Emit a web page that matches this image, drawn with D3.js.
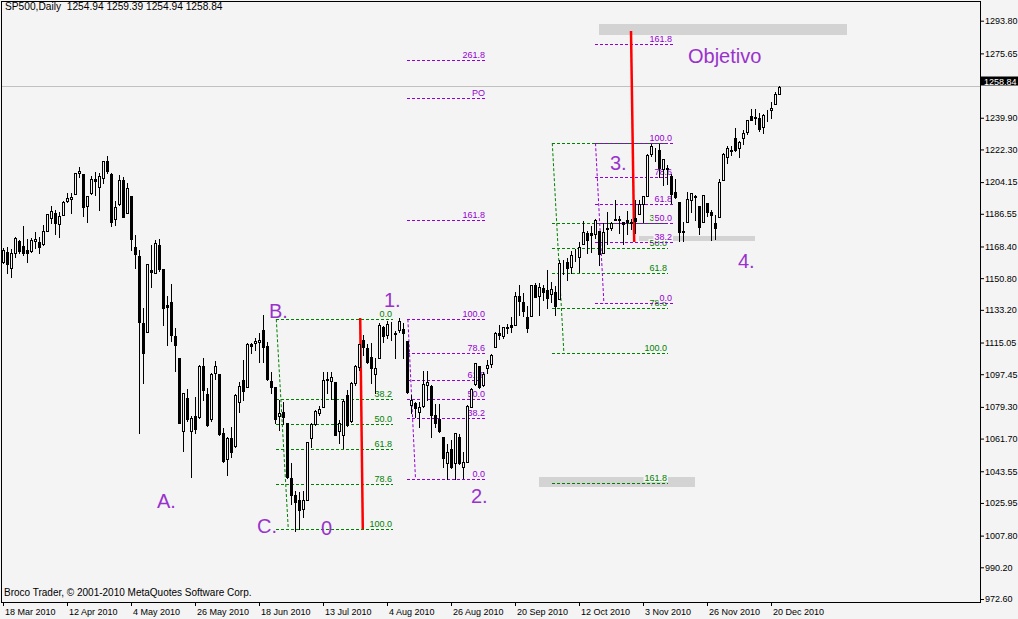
<!DOCTYPE html>
<html><head><meta charset="utf-8">
<script src="https://cdn.jsdelivr.net/npm/d3@7"></script>
<style>
body{margin:0;background:#f4f4f4;}
svg{display:block;font-family:"Liberation Sans",Arial,sans-serif;}
</style></head><body>
<svg id="c" width="1018" height="619"></svg>
<script>
// ---------- DATA ----------
const dateLabels=["18 Mar 2010","12 Apr 2010","4 May 2010","26 May 2010","18 Jun 2010","13 Jul 2010","4 Aug 2010","26 Aug 2010","20 Sep 2010","12 Oct 2010","3 Nov 2010","26 Nov 2010","20 Dec 2010"];
const dateIndex=[0,16,32,48,64,80,96,112,128,144,160,176,192];
const priceTicks=[1293.80,1275.65,1239.90,1222.30,1204.15,1186.55,1168.40,1150.80,1133.20,1115.05,1097.45,1079.30,1061.70,1043.55,1025.95,1007.80,990.20,972.60];

const opens=[1161.6,1166.8,1157.9,1166.6,1173.1,1170.3,1168.1,1167.7,1173.3,1172.5,
1171.4,1178.8,1186.1,1188.5,1182.4,1187.7,1195.1,1196.2,1199.0,1211.1,
1210.3,1192.4,1199.6,1207.4,1202.9,1207.9,1217.5,1210.3,1185.1,1193.5,
1207.0,1188.8,1198.1,1169.8,1164.8,1127.7,1122.7,1157.0,1155.5,1170.9,
1157.6,1137.6,1139.0,1120.3,1107.9,1067.8,1085.7,1067.8,1076.1,
1075.2,1103.7,1088.1,1074.1,1099.6,1099.2,1066.6,1051.8,1063.5,1059.4,
1083.5,1095.9,1091.8,1115.9,1116.6,1117.2,1123.7,1114.8,1095.5,1091.8,
1075.9,1078.3,1071.8,1041.3,1032.0,1029.3,1024.1,1029.3,1063.5,1071.5,
1077.8,1081.1,1095.9,1095.5,1095.0,1067.8,1065.3,1087.6,1073.3,1094.0,
1103.3,1118.1,1113.5,1108.9,1099.2,1107.9,
1125.3,1121.1,1125.8,1122.1,1123.7,1124.0,1117.6,1082.0,1082.9,1078.3,
1081.5,1093.1,1092.8,1076.5,1074.1,1064.4,1049.6,1057.6,1049.6,1064.4,
1047.8,1050.2,1081.1,1093.7,1103.7,1093.1,1102.4,1104.8,1114.4,1121.8,1120.3,1125.1,
1126.4,1126.6,1142.8,1139.5,1131.1,1131.7,1148.6,1142.3,1146.8,1146.0,
1143.5,1145.0,1140.7,1159.8,1161.6,1158.4,1165.3,1164.3,1171.3,1177.8,
1177.5,1176.8,1178.6,1166.7,1179.6,1180.5,1184.7,1184.9,1183.8,1184.5,
1183.9,1185.7,1187.9,1193.8,1198.3,1221.2,1223.2,1223.6,1213.1,1213.0,
1209.1,1200.4,1194.8,1178.3,1183.8,1196.1,1198.1,1192.5,1183.7,1194.2,
1189.1,1183.0,1186.6,1206.8,1219.9,1223.9,1230.5,1225.0,1230.1,1233.9,
1242.5,1241.8,1241.6,1236.3,1243.6,1245.8,1249.4,1254.94];

const highs=[1169.0,1169.6,1168.7,1175.5,1173.7,1181.4,1174.2,1175.0,1177.9,1175.1,
1182.0,1188.1,1192.5,1190.3,1189.4,1195.5,1199.9,1199.6,1211.1,1214.0,
1210.3,1198.1,1209.2,1211.2,1211.1,1217.5,1220.5,1210.7,1195.3,1209.8,
1208.8,1205.5,1198.1,1176.4,1168.1,1136.1,1160.3,1170.9,1173.7,1174.2,
1157.6,1142.6,1149.2,1124.6,1107.9,1088.5,1091.1,1075.9,1086.3,
1104.2,1107.9,1091.3,1099.6,1106.5,1099.2,1069.0,1064.4,1070.0,1087.9,
1094.6,1107.0,1116.3,1116.6,1119.0,1121.8,1132.0,1117.2,1100.5,1091.8,
1084.8,1083.9,1071.8,1049.6,1034.4,1033.9,1034.4,1061.7,1071.8,1079.2,
1081.5,1100.5,1100.5,1100.5,1095.0,1073.7,1085.2,1090.3,1094.9,1104.2,
1115.9,1121.0,1115.9,1116.6,1107.9,1127.7,
1126.0,1128.8,1128.3,1123.1,1130.1,1127.7,1117.6,1087.6,1083.9,1083.9,
1101.1,1101.1,1093.1,1082.4,1082.6,1064.4,1060.3,1062.6,1066.6,1065.9,
1056.1,1082.0,1091.3,1105.5,1103.7,1100.5,1107.0,1110.3,1122.7,1126.4,1125.5,1127.0,
1131.0,1144.9,1148.6,1144.4,1136.8,1148.9,1149.9,1150.0,1148.6,1157.2,
1150.3,1148.2,1162.8,1162.3,1163.9,1167.7,1168.7,1172.6,1184.4,1178.9,
1181.2,1185.5,1178.6,1182.9,1189.4,1183.9,1196.1,1187.1,1183.8,1189.5,
1185.5,1195.8,1195.9,1198.3,1221.3,1227.1,1224.6,1226.8,1218.8,1215.5,
1210.5,1207.4,1194.8,1183.6,1200.3,1200.0,1198.9,1192.5,1198.6,1194.2,
1190.3,1187.4,1207.6,1221.9,1225.6,1225.8,1235.7,1228.9,1234.7,1240.4,
1246.7,1246.6,1244.3,1243.8,1245.8,1250.2,1255.8,1259.39];

const lows=[1160.7,1155.5,1153.3,1164.0,1166.3,1165.3,1161.6,1167.2,1169.0,1166.3,
1171.1,1178.8,1182.9,1177.0,1175.5,1187.4,1194.8,1188.8,1199.0,1208.5,
1187.2,1183.8,1199.2,1198.7,1190.3,1205.1,1211.1,1181.4,1182.2,1193.3,
1186.6,1188.8,1168.1,1158.3,1066.7,1094.4,1122.7,1147.7,1155.5,1156.6,
1126.5,1115.3,1117.8,1101.1,1072.2,1056.7,1073.3,1041.9,1066.3,
1074.6,1084.8,1070.3,1073.3,1096.3,1065.3,1050.5,1043.1,1053.3,1058.9,
1078.3,1084.8,1091.8,1110.7,1112.6,1106.1,1106.1,1095.9,1088.5,1071.8,
1068.1,1071.5,1041.3,1027.0,1012.2,1013.0,1020.0,1029.3,1058.9,1070.9,
1076.5,1081.1,1088.9,1085.2,1065.3,1061.0,1058.0,1070.3,1072.7,1093.1,
1101.5,1109.9,1105.2,1094.0,1088.5,1107.9,
1116.8,1119.5,1118.1,1107.9,1122.7,1108.0,1088.5,1077.4,1075.5,1070.0,
1081.1,1084.8,1064.4,1070.0,1067.2,1047.8,1040.9,1046.8,1040.9,1049.3,
1041.3,1050.2,1080.7,1093.1,1091.3,1092.6,1099.6,1103.3,1114.4,1118.5,1119.0,1122.2,
1122.4,1126.6,1131.9,1131.6,1122.8,1131.7,1142.0,1132.1,1140.3,1136.1,
1139.4,1131.9,1140.7,1154.9,1151.4,1155.6,1162.0,1155.7,1171.3,1166.7,
1167.1,1174.6,1159.7,1166.7,1171.2,1179.0,1184.7,1177.7,1171.7,1177.1,
1179.7,1177.7,1187.9,1183.6,1198.3,1220.3,1217.3,1208.9,1204.3,1204.5,
1194.1,1197.2,1173.0,1173.2,1183.8,1189.4,1184.8,1176.9,1183.7,1186.9,
1173.6,1174.1,1186.6,1206.8,1216.6,1220.7,1223.3,1219.5,1226.9,1232.6,
1240.3,1238.2,1234.0,1232.9,1239.9,1241.5,1249.4,1254.94];

const closes=[1168.1,1160.1,1166.3,1174.6,1167.7,1166.3,1166.6,1173.7,1174.2,1169.6,
1178.7,1187.9,1189.8,1182.9,1186.8,1194.8,1196.8,1197.5,1210.7,1212.0,
1192.2,1198.1,1207.4,1206.2,1209.2,1217.4,1212.2,1183.8,1191.8,1206.8,
1186.6,1202.4,1174.0,1166.1,1128.3,1111.1,1160.3,1155.9,1171.8,1157.4,
1136.1,1136.6,1120.9,1115.5,1072.2,1088.5,1074.1,1075.0,1068.5,
1103.7,1090.3,1070.7,1099.2,1103.7,1065.9,1051.1,1063.5,1056.1,1087.6,
1092.8,1090.0,1115.9,1115.0,1117.4,1118.1,1114.4,1096.3,1092.2,1074.1,
1077.4,1075.2,1042.2,1032.0,1028.3,1023.7,1029.3,1061.7,1071.5,1078.7,
1079.6,1095.9,1096.3,1097.4,1065.3,1071.8,1084.2,1070.9,1094.4,1103.7,
1115.9,1114.4,1106.1,1102.4,1102.4,1126.4,
1120.5,1127.2,1125.8,1121.6,1128.9,1121.8,1089.4,1084.8,1080.2,1080.7,
1093.7,1095.0,1076.5,1072.2,1067.8,1052.8,1056.1,1047.8,1066.3,1049.6,
1050.2,1081.5,1090.7,1105.2,1091.8,1099.2,1104.2,1109.6,1122.2,1121.1,1125.1,1124.6,
1125.6,1142.7,1139.8,1134.3,1124.8,1148.7,1142.2,1147.7,1144.7,1141.2,
1146.2,1137.0,1160.8,1160.0,1158.1,1165.2,1165.3,1169.8,1178.1,1173.8,
1176.2,1184.7,1165.9,1178.2,1180.3,1183.1,1185.6,1185.6,1182.5,1183.8,
1183.3,1184.4,1193.6,1198.0,1221.1,1225.9,1223.3,1213.4,1218.7,1213.5,
1199.2,1197.8,1178.3,1178.6,1196.7,1199.7,1197.8,1180.7,1198.4,1189.4,
1187.8,1180.6,1206.1,1221.5,1224.7,1223.1,1223.8,1228.3,1233.0,1240.4,
1240.5,1241.6,1235.2,1242.9,1243.9,1247.1,1254.6,1258.84];

// Fibonacci objects (bar index / price anchors)
const fibGreenBC={levels:[0,38.2,50,61.8,78.6,100],p0:1129.6,p100:1013.0,start:68.2,end:97.5,base:[68.2,1129.6,71.2,1013.0]};
const fibPurple12={levels:[0,38.2,50,61.8,78.6,100,161.8,238.2,261.8],names:{238.2:"PO"},p0:1040.9,p100:1129.6,start:101.0,end:120.75,base:[101.1,1129.6,103.0,1040.9]};
const fibGreenBig={levels:[0,38.2,50,61.8,78.6,100,161.8],p0:1227.4,p100:1110.7,start:137.2,end:166.3,base:[137.2,1227.4,140.1,1110.7]};
const fibPurple3={levels:[0,38.2,50,61.8,78.6,100,161.8],p0:1138.5,p100:1227.4,start:148.0,end:167.6,base:[148.0,1227.4,150.1,1138.5]};

// grey rectangles [i1,p1,i2,p2]
const zones=[[149.0,1293.6,211.0,1287.5],[159.0,1175.9,188.0,1173.3],[134.0,1042.0,173.0,1036.5]];
// red wave-length segments [i1,p1,i2,p2]
const redLines=[[89.3,1130.3,89.95,1013.1],[157.0,1289.7,157.8,1172.5]];
// wave labels
const waveText=["A.","B.","C.","0","1.","2.","3.","4.","Objetivo"];
const waveIdx=[38.5,66.5,63.5,79.5,95.25,117.0,151.75,183.75,171.25];
const wavePrice=[1024.8,1130.3,1010.9,1009.8,1136.4,1027.6,1212.5,1158.1,1272.0];

// ---------- DRAW ----------
const W=1018,H=619,bg="#f4f4f4";
const svg=d3.select("#c");
svg.append("rect").attr("width",W).attr("height",H).attr("fill",bg);
const x=d3.scaleLinear().domain([0,243]).range([3,975]);
const y=d3.scaleLinear().domain([972.6,1293.8]).range([602,23.7]);
const cr=v=>Math.floor(v)+0.5;

svg.append("defs").append("clipPath").attr("id","plot").append("rect")
  .attr("x",2).attr("y",2).attr("width",978).attr("height",600);
const g=svg.append("g").attr("clip-path","url(#plot)");

const last=closes[closes.length-1];
g.append("line").attr("x1",2).attr("x2",980).attr("y1",cr(y(last))).attr("y2",cr(y(last)))
  .attr("stroke","#c0c0c0").attr("stroke-width",1);

// zones
g.selectAll("rect.zone").data(zones).join("rect").attr("class","zone")
  .attr("x",d=>Math.round(x(d[0]))).attr("width",d=>Math.round(x(d[2]))-Math.round(x(d[0])))
  .attr("y",d=>Math.round(y(d[1]))).attr("height",d=>Math.round(y(d[3]))-Math.round(y(d[1])))
  .attr("fill","#d3d3d3");

function drawFib(f,color){
  const fg=g.append("g");
  fg.append("line").attr("x1",x(f.base[0])+0.5).attr("y1",y(f.base[1])).attr("x2",x(f.base[2])+0.5).attr("y2",y(f.base[3]))
    .attr("stroke",color).attr("stroke-width",1).attr("stroke-dasharray","3,2");
  f.levels.forEach(l=>{
    const p=f.p0+(f.p100-f.p0)*l/100, yy=cr(y(p));
    fg.append("line").attr("x1",Math.round(x(f.start))).attr("x2",Math.round(x(f.end))).attr("y1",yy).attr("y2",yy)
      .attr("stroke",color).attr("stroke-width",1).attr("stroke-dasharray","3,2");
    const name=(f.names&&f.names[l])||l.toFixed(1);
    const t=fg.append("text").attr("x",Math.round(x(f.end))-1).attr("y",yy-2.5).attr("text-anchor","end")
      .attr("font-size",9).attr("fill",color).text(name);
    const b=t.node().getBBox();
    fg.insert("rect",()=>t.node()).attr("x",b.x-1).attr("y",b.y+1).attr("width",b.width+2).attr("height",b.height-2).attr("fill",bg);
  });
}
const green="#008000",violet="#9400D3";
drawFib(fibGreenBC,green);
drawFib(fibPurple12,violet);
drawFib(fibGreenBig,green);
drawFib(fibPurple3,violet);

// red lines
g.selectAll("line.red").data(redLines).join("line").attr("class","red")
  .attr("x1",d=>x(d[0])).attr("y1",d=>y(d[1])).attr("x2",d=>x(d[2])).attr("y2",d=>y(d[3]))
  .attr("stroke","#ff0000").attr("stroke-width",2.5);

// candles
const bars=d3.range(opens.length).map(i=>({i,o:opens[i],h:highs[i],l:lows[i],c:closes[i]}));
const cg=g.append("g");
bars.forEach(d=>{
  const k=Math.round(x(d.i));
  const top=Math.round(y(Math.max(d.o,d.c)))+0.5, bot=Math.round(y(Math.min(d.o,d.c)))+0.5;
  cg.append("line").attr("x1",k+0.5).attr("x2",k+0.5)
    .attr("y1",Math.round(y(Math.max(d.h,d.o,d.c)))).attr("y2",Math.round(y(Math.min(d.l,d.o,d.c)))+1)
    .attr("stroke","#000").attr("stroke-width",1);
  cg.append("rect").attr("x",k-0.5).attr("width",2).attr("y",top).attr("height",Math.max(0,bot-top))
    .attr("fill",d.c>=d.o?bg:"#000").attr("stroke","#000").attr("stroke-width",1);
});

// wave labels
g.selectAll("text.wave").data(waveText).join("text").attr("class","wave")
  .attr("x",(d,i)=>x(waveIdx[i])).attr("y",(d,i)=>y(wavePrice[i]))
  .attr("font-size",20).attr("fill","#9932CC").text(d=>d);

// header & footer
svg.append("text").attr("x",5).attr("y",10).attr("font-size",10.2).attr("fill","#000")
  .style("white-space","pre").text("SP500,Daily  1254.94 1259.39 1254.94 1258.84");
svg.append("text").attr("x",4).attr("y",595.5).attr("font-size",10).attr("fill","#000")
  .text("Broco Trader, © 2001-2010 MetaQuotes Software Corp.");

// frame
svg.append("rect").attr("x",1.5).attr("y",1.5).attr("width",979).attr("height",601)
  .attr("fill","none").attr("stroke","#000").attr("stroke-width",1);

// price axis
const ya=svg.append("g").attr("transform","translate(980,-3)")
  .call(d3.axisRight(y).tickValues(priceTicks).tickSize(4).tickPadding(1).tickFormat(d3.format(".2f")));
ya.select(".domain").remove();
ya.selectAll("text").attr("font-size",9).attr("font-family","Liberation Sans, Arial, sans-serif").attr("fill","#000");

// current price tag
const yl=cr(y(last));
svg.append("rect").attr("x",981).attr("y",yl-10).attr("width",37).attr("height",9).attr("fill","#000");
svg.append("text").attr("x",984).attr("y",yl-2).attr("font-size",9).attr("fill","#fff").text(last.toFixed(2));

// date axis
const xa=svg.append("g").attr("transform","translate(0,602)")
  .call(d3.axisBottom(x).tickValues(dateIndex).tickSize(4).tickFormat((d,i)=>dateLabels[i]));
xa.select(".domain").remove();
xa.selectAll("text").attr("font-size",9).attr("font-family","Liberation Sans, Arial, sans-serif")
  .attr("text-anchor","start").attr("x",1.5).attr("dy",0).attr("y",12.5).attr("fill","#000");
</script>
</body></html>
